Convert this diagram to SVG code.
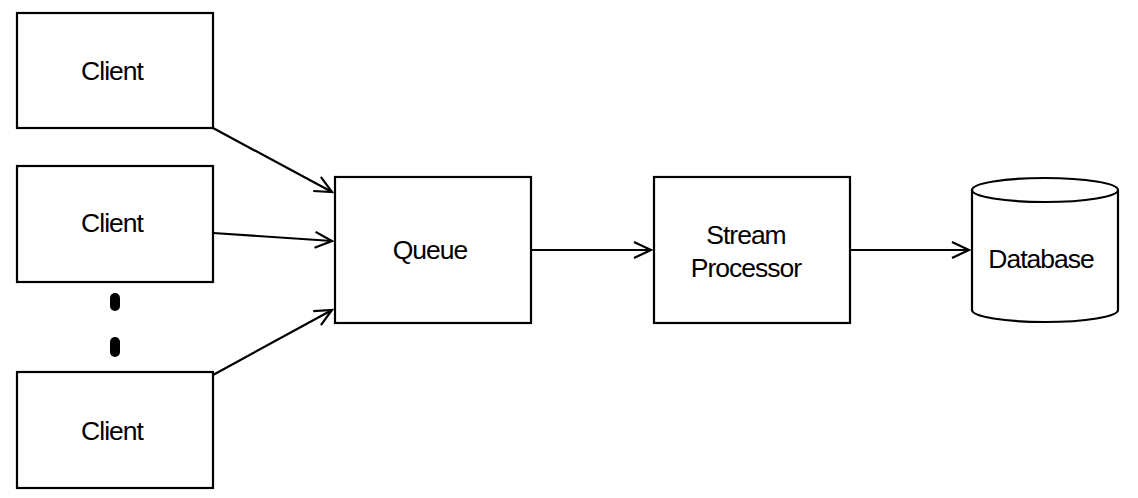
<svg xmlns="http://www.w3.org/2000/svg" width="1138" height="498" viewBox="0 0 1138 498">
<defs>
<style>
.box{fill:#fff;stroke:#000;stroke-width:2.2}
.t{font-family:"Liberation Sans",Arial,sans-serif;font-size:26.5px;fill:#000;text-anchor:middle;letter-spacing:-1px}
.c{stroke:#000;stroke-width:2.2;fill:none}
</style>
<marker id="ah" markerWidth="22" markerHeight="22" refX="18" refY="9" orient="auto" markerUnits="userSpaceOnUse">
<path d="M1,1 L18,9 L1,17" fill="none" stroke="#000" stroke-width="2.2"/>
</marker>
</defs>
<rect width="1138" height="498" fill="#fff"/>
<g id="connectors">
<line class="c" x1="213" y1="128" x2="332" y2="192" marker-end="url(#ah)"/>
<line class="c" x1="213" y1="233" x2="332" y2="241" marker-end="url(#ah)"/>
<line class="c" x1="213" y1="375" x2="332" y2="310" marker-end="url(#ah)"/>
<line class="c" x1="532" y1="250" x2="651" y2="250" marker-end="url(#ah)"/>
<line class="c" x1="851" y1="250" x2="969" y2="250" marker-end="url(#ah)"/>
</g>
<g id="client1"><rect class="box" x="17" y="13" width="196" height="115"/><text class="t" x="112" y="80">Client</text></g>
<g id="client2"><rect class="box" x="17" y="166" width="196" height="116"/><text class="t" x="112" y="232">Client</text></g>
<g id="ellipsis"><rect x="110" y="293" width="10" height="18" rx="5" fill="#000"/><rect x="110" y="337" width="10" height="20" rx="5" fill="#000"/></g>
<g id="client3"><rect class="box" x="17" y="372" width="196" height="116"/><text class="t" x="112" y="440">Client</text></g>
<g id="queue"><rect class="box" x="335" y="177" width="196" height="146"/><text class="t" x="430" y="259">Queue</text></g>
<g id="stream"><rect class="box" x="654" y="177" width="196" height="146"/><text class="t" x="746" y="244">Stream</text><text class="t" x="746" y="277">Processor</text></g>
<g id="database">
<path class="box" d="M972,190 L972,310 A73,12 0 0 0 1118,310 L1118,190"/>
<ellipse class="box" cx="1045" cy="190" rx="73" ry="12"/>
<text class="t" x="1041" y="268">Database</text>
</g>
</svg>
